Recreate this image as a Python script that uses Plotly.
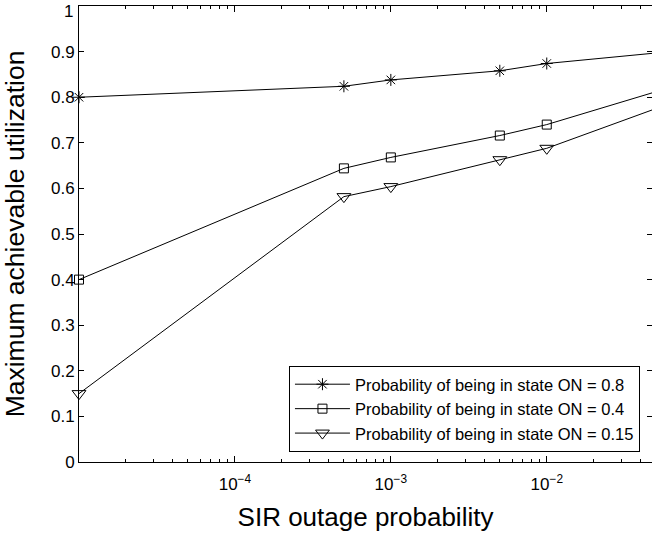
import plotly.graph_objects as go

x_vals = [1e-5, 5e-4, 1e-3, 5e-3, 1e-2, 5e-2]
y_on08 = [0.800, 0.824, 0.838, 0.858, 0.874, 0.897]
y_on04 = [0.400, 0.644, 0.668, 0.716, 0.740, 0.812]
y_on015 = [0.150, 0.582, 0.604, 0.663, 0.688, 0.775]
names = ["Probability of being in state ON = 0.8",
         "Probability of being in state ON = 0.4",
         "Probability of being in state ON = 0.15"]
x_tickvals = [1e-4, 1e-3, 1e-2]
x_ticktext = ["10<sup>−4</sup>", "10<sup>−3</sup>", "10<sup>−2</sup>"]
y_tickvals = [0, 0.1, 0.2, 0.3, 0.4, 0.5, 0.6, 0.7, 0.8, 0.9, 1]
y_ticktext = ["0", "0.1", "0.2", "0.3", "0.4", "0.5", "0.6", "0.7", "0.8", "0.9", ""]
y_top_label = "1"

minor_vals = [m * 10.0 ** e for e in range(-5, -1) for m in range(2, 10)]

FONT = "Liberation Sans, Arial, sans-serif"

fig = go.Figure()
series = [(y_on08, "asterisk-open", 10), (y_on04, "square-open", 9), (y_on015, "triangle-down-open", 12)]
for (ys, sym, sz), nm in zip(series, names):
    fig.add_trace(go.Scatter(
        x=x_vals, y=ys, name=nm, mode="lines+markers",
        line=dict(color="black", width=1),
        marker=dict(symbol=sym, size=sz, color="black", line=dict(color="black", width=1)),
        cliponaxis=False,
    ))

fig.update_layout(
    width=652, height=536,
    margin=dict(l=79, r=0, t=6, b=74, autoexpand=False),
    paper_bgcolor="white", plot_bgcolor="white",
    font=dict(family=FONT, color="black", size=17),
    showlegend=True,
    legend=dict(
        x=0.979, y=0.022, xanchor="right", yanchor="bottom",
        bgcolor="white", bordercolor="black", borderwidth=1,
        font=dict(family=FONT, size=16.5, color="black"),
        tracegroupgap=0, itemwidth=55,
    ),
)

fig.add_annotation(
    text=y_top_label, xref="paper", yref="y", x=0, y=1,
    xanchor="right", yanchor="top", xshift=-4, yshift=6,
    showarrow=False, font=dict(family=FONT, size=17, color="black"),
)

fig.update_xaxes(
    type="log", range=[-5, -1.325], automargin=False,
    showgrid=False, zeroline=False,
    showline=True, linecolor="black", linewidth=1, mirror="ticks",
    ticks="inside", ticklen=6, tickcolor="black",
    tickvals=x_tickvals, ticktext=x_ticktext,
    tickfont=dict(family=FONT, size=17), ticklabelstandoff=7,
    minor=dict(tickvals=minor_vals, ticks="inside", ticklen=3, tickcolor="black", showgrid=False),
    title=dict(text="SIR outage probability", font=dict(family=FONT, size=26), standoff=14),
)
fig.update_yaxes(
    range=[0, 1.0001], automargin=False,
    showgrid=False, zeroline=False,
    showline=True, linecolor="black", linewidth=1, mirror="ticks",
    ticks="inside", ticklen=5, tickcolor="black",
    tickvals=y_tickvals, ticktext=y_ticktext,
    tickfont=dict(family=FONT, size=17), ticklabeloverflow="allow",
    title=dict(text="Maximum achievable utilization", font=dict(family=FONT, size=26.5), standoff=19),
)

fig.write_html("out.html", post_script="document.body.style.margin='0';",
               config={"displayModeBar": False})
